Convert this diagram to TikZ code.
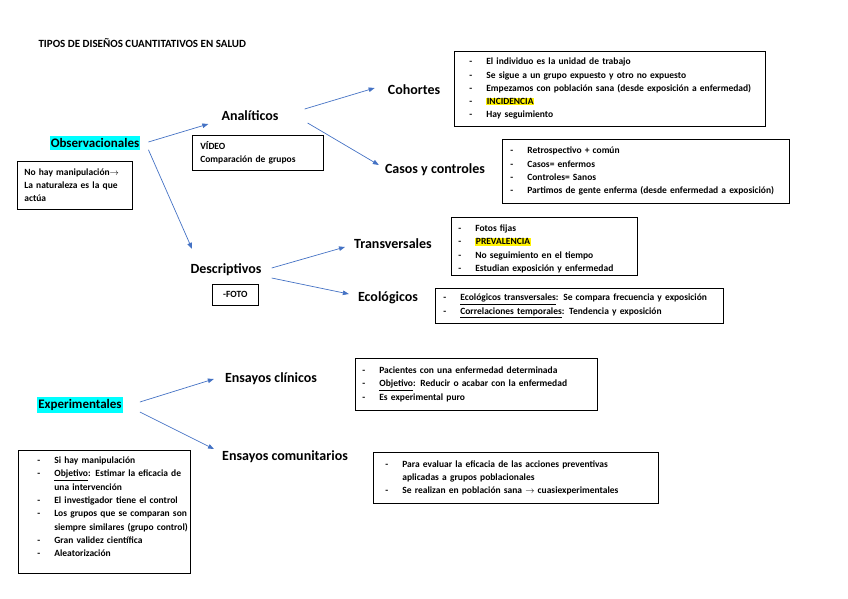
\documentclass[tikz,border=0pt]{standalone}
\usepackage{fontspec}
\setmainfont{Carlito}
\usetikzlibrary{arrows.meta}
\definecolor{azul}{HTML}{4472C4}
\definecolor{celeste}{HTML}{00FFFF}
\newcommand\padw{8pt}
\newcommand\guion[1]{\hspace*{\padw}\makebox[17pt][l]{-}#1}
\newcommand\sigue[1]{\hspace*{\padw}\hspace*{17pt}#1}
\newcommand\marca[1]{{\setlength\fboxsep{0.6pt}\colorbox{yellow}{#1}}}

\begin{document}
\begin{tikzpicture}[x=1pt,y=-1pt,
  etiq/.style={font=\fontsize{14}{16}\selectfont\bfseries, inner sep=1pt},
  resalte/.style={font=\fontsize{13}{15}\selectfont\bfseries, fill=celeste, inner xsep=1pt, inner ysep=2pt},
  caja/.style={draw, line width=0.7pt, anchor=north west, inner xsep=0pt, inner ysep=0pt,
    align=left, font=\fontsize{9.5}{13.3}\selectfont\bfseries},
  medida/.style 2 args={text width=#1, minimum height=#2},
  sangria/.code={\renewcommand\padw{#1}},
  flecha/.style={draw=azul, line width=0.7pt, -{Triangle[length=6pt,width=4.5pt]}}]
 \useasboundingbox (0,0) rectangle (848,599);
 \node[anchor=west, font=\fontsize{11}{13}\selectfont\bfseries] (titulo) at (35,43) {TIPOS DE DISEÑOS CUANTITATIVOS EN SALUD};

 % observacionales
 \node[resalte] (obs) at (95,143) {Observacionales};
 \node[caja, medida={115pt}{48pt}, sangria=7pt] (obsnota) at (17,161)
  {\hspace*{\padw}No hay manipulación$\rightarrow$\\ \hspace*{\padw}La naturaleza es la que\\ \hspace*{\padw}actúa};
 \node[etiq] (anal) at (250,116) {Analíticos};
 \node[caja, medida={131pt}{35pt}, sangria=8pt] (video) at (192,135)
  {\hspace*{\padw}VÍDEO\\ \hspace*{\padw}Comparación de grupos};
 \node[etiq] (desc) at (226,270) {Descriptivos};
 \node[caja, medida={46pt}{21pt}, align=center] (foto) at (212,284) {-FOTO};

 % analiticos
 \node[etiq] (coh) at (414,90) {Cohortes};
 \node[caja, medida={311pt}{75pt}, sangria=15pt] (cohcaja) at (454,51)
  {\guion{El individuo es la unidad de trabajo}\\
   \guion{Se sigue a un grupo expuesto y otro no expuesto}\\
   \guion{Empezamos con población sana (desde exposición a enfermedad)}\\
   \guion{\marca{INCIDENCIA}}\\
   \guion{Hay seguimiento}};
 \node[etiq] (casos) at (435,170) {Casos y controles};
 \node[caja, medida={287pt}{64pt}, sangria=8pt] (casoscaja) at (502,139)
  {\guion{Retrospectivo + común}\\
   \guion{Casos= enfermos}\\
   \guion{Controles= Sanos}\\
   \guion{Partimos de gente enferma (desde enfermedad a exposición)}};

 % descriptivos
 \node[etiq] (trans) at (393,244) {Transversales};
 \node[caja, medida={186pt}{58pt}, sangria=7pt, text height=12pt] (transcaja) at (451,217)
  {\guion{Fotos fijas}\\
   \guion{\marca{PREVALENCIA}}\\
   \guion{No seguimiento en el tiempo}\\
   \guion{Estudian exposición y enfermedad}};
 \node[etiq] (ecol) at (388,298) {Ecológicos};
 \node[caja, medida={288pt}{35pt}, sangria=8pt] (ecolcaja) at (435,288)
  {\guion{\underline{Ecológicos transversales}: Se compara frecuencia y exposición}\\
   \guion{\underline{Correlaciones temporales}: Tendencia y exposición}};

 % experimentales
 \node[resalte] (exp) at (80,405) {Experimentales};
 \node[caja, medida={172pt}{123pt}, sangria=19pt, text depth=103pt] (expcaja) at (18,450)
  {\guion{Si hay manipulación}\\
   \guion{\underline{Objetivo}: Estimar la eficacia de}\\
   \sigue{una intervención}\\
   \guion{El investigador tiene el control}\\
   \guion{Los grupos que se comparan son}\\
   \sigue{siempre similares (grupo control)}\\
   \guion{Gran validez científica}\\
   \guion{Aleatorización}};
 \node[etiq] (clin) at (271,379) {Ensayos clínicos};
 \node[caja, medida={242pt}{52pt}, sangria=7pt] (clincaja) at (355,358)
  {\guion{Pacientes con una enfermedad determinada}\\
   \guion{\underline{Objetivo}: Reducir o acabar con la enfermedad}\\
   \guion{Es experimental puro}};
 \node[etiq] (com) at (285,457) {Ensayos comunitarios};
 \node[caja, medida={285pt}{51pt}, sangria=12pt] (comcaja) at (373,452)
  {\guion{Para evaluar la eficacia de las acciones preventivas}\\
   \sigue{aplicadas a grupos poblacionales}\\
   \guion{Se realizan en población sana $\rightarrow$ cuasiexperimentales}};

 % flechas
 \draw[flecha] ([xshift=8pt,yshift=1pt]obs.east) -- ([xshift=-12pt,yshift=-8pt]anal.west);
 \draw[flecha] ([xshift=8pt]obs.south east) -- ([xshift=-34pt,yshift=14pt]desc.north);
 \draw[flecha] ([xshift=25pt,yshift=7pt]anal.east) -- ([xshift=-12pt,yshift=2pt]coh.west);
 \draw[flecha] ([xshift=28pt,yshift=-7pt]anal.east) -- ([xshift=-5pt,yshift=5pt]casos.west);
 \draw[flecha] ([xshift=9pt,yshift=2pt]desc.east) -- ([xshift=-8pt,yshift=-3pt]trans.west);
 \draw[flecha] ([xshift=9pt,yshift=-8pt]desc.east) -- ([xshift=-8pt,yshift=4pt]ecol.west);
 \draw[flecha] ([xshift=17pt,yshift=3pt]exp.east) -- ([xshift=-10pt]clin.west);
 \draw[flecha] ([xshift=17pt,yshift=-7pt]exp.east) -- ([xshift=-7pt,yshift=8pt]com.west);
\end{tikzpicture}
\end{document}
